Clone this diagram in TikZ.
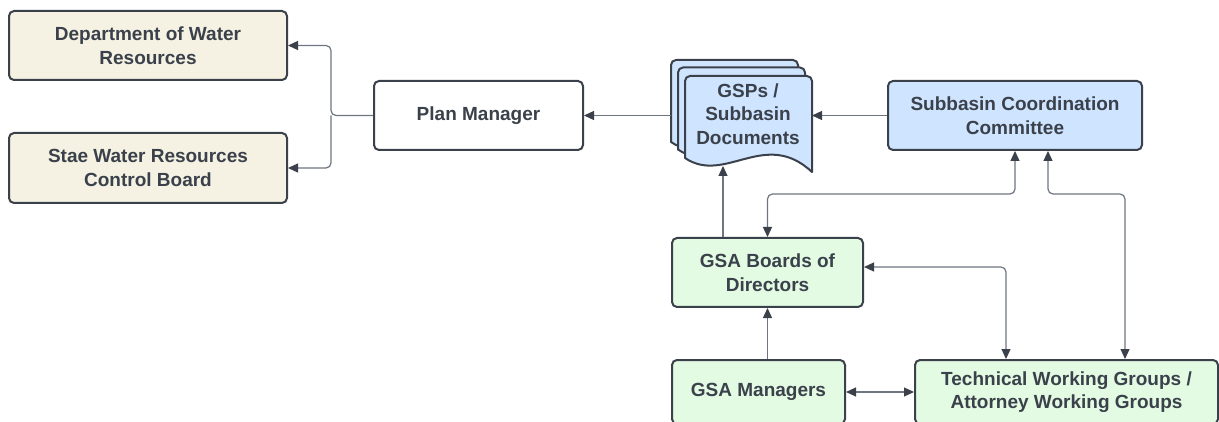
\documentclass[tikz,border=0pt]{standalone}
\usepackage{fontspec}
\setmainfont{Liberation Sans}
\usetikzlibrary{arrows.meta,calc}
\definecolor{ink}{HTML}{3A414A}
\definecolor{wire}{HTML}{6E7580}
\definecolor{beige}{HTML}{F5F2E3}
\definecolor{paleblue}{HTML}{CFE4FF}
\definecolor{palegreen}{HTML}{E3FAE3}
\begin{document}
\begin{tikzpicture}[x=1pt,y=-1pt,
  box/.style={draw=ink, line width=2pt, rounded corners=5pt, align=center,
    font=\fontsize{19}{23.5}\selectfont\bfseries, text=ink, inner sep=0pt},
  beigebox/.style={box, fill=beige},
  bluebox/.style={box, fill=paleblue},
  greenbox/.style={box, fill=palegreen},
  whitebox/.style={box, fill=white},
  pagestyle/.style={draw=ink, line width=2pt, fill=paleblue, line join=round},
  conn/.style={draw=wire, line width=1.2pt, rounded corners=5pt,
    >={Triangle[length=10pt,width=9pt,color=ink,fill=ink]}}
]
\useasboundingbox (0,0) rectangle (1219,422);
\clip (0,0) rectangle (1219,422);

% nodes
\node[beigebox, minimum width=278pt, minimum height=69pt] (dwr) at (148,45.5) {Department of Water\\Resources};
\node[beigebox, minimum width=278pt, minimum height=70pt] (swr) at (148,168) {Stae Water Resources\\Control Board};
\node[whitebox, minimum width=209pt, minimum height=69pt] (pm) at (478.5,115.5) {Plan Manager};
\node[bluebox, minimum width=254pt, minimum height=69pt] (scc) at (1015,115.5) {Subbasin Coordination\\Committee};
\node[greenbox, minimum width=191pt, minimum height=69pt] (gb) at (767.5,272.5) {GSA Boards of\\Directors};
\node[greenbox, minimum width=173pt, minimum height=64pt] (gm) at (758.5,392) {GSA Managers};
\node[greenbox, minimum width=303pt, minimum height=64pt] (twg) at (1066.5,392) {Technical Working Groups /\\Attorney Working Groups};

% document stack
\foreach \dx/\dy in {-14/-16, -7/-8.5, 0/0}{
  \begin{scope}[shift={(\dx,\dy)}]
    \path[pagestyle] (685,158) -- (685,100) [rounded corners=5pt] -- (685,76) -- (812,76) -- (812,100)
      [sharp corners] -- (812,172) .. controls (765,128) and (725,185) .. (685,158) -- cycle;
  \end{scope}
}
\node[align=center, font=\fontsize{19}{23.5}\selectfont\bfseries, text=ink, inner sep=0pt] (gsp) at (748,114) {GSPs /\\Subbasin\\Documents};
\coordinate (gspl) at (671,115.5);
\coordinate (gspr) at (812,115.5);
\coordinate (gspb) at (723,166);
\coordinate (j) at (331,115.5);

% connectors
\draw[conn,->] (pm.west) -- (j) |- (dwr.east);
\draw[conn,->] (j) |- (swr.east);
\draw[conn,->] (gspl) -- (pm.east);
\draw[conn,->] (scc.west) -- (gspr);
\draw[conn,->] (gb.north -| gspb) -- (gspb);
\draw[conn,<->] (scc.south) -- ++(0,43) -| (gb.north);
\draw[conn,<->] ([xshift=33pt]scc.south) -- ++(0,43) -| ([xshift=58.5pt]twg.north);
\draw[conn,<->] ([yshift=5.5pt]gb.east) -| ([xshift=-60.5pt]twg.north);
\draw[conn,->] (gb.south |- gm.north) -- (gb.south);
\draw[conn,<->] (gm.east) -- (twg.west);
\end{tikzpicture}
\end{document}
